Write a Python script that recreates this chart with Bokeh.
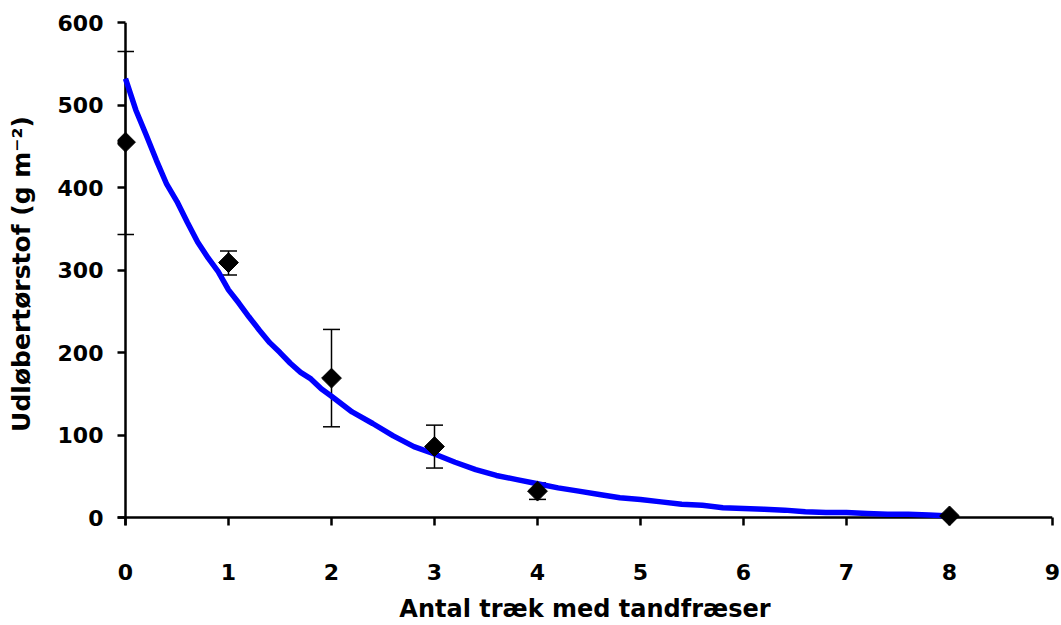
import numpy as np
from bokeh.plotting import figure
from bokeh.models import ColumnDataSource, Whisker, TeeHead, FixedTicker, Range1d, Span
from bokeh.embed import file_html
from bokeh.resources import INLINE

# Observed means and standard-error ranges
obs_x = [0, 1, 2, 3, 4, 8]
obs_y = [455, 309, 169, 86, 32, 2]
err_lo = [343, 294, 110, 60, 22, 2]
err_hi = [565, 323, 228, 112, 42, 2]

# Fitted curve
fit_x = [0, 0.1, 0.2, 0.3, 0.4, 0.5, 0.6, 0.7, 0.8, 0.9, 1.0, 1.1, 1.2, 1.3, 1.4,
         1.5, 1.6, 1.7, 1.8, 1.9, 2.0, 2.2, 2.4, 2.6, 2.8, 3.0, 3.2, 3.4, 3.6, 3.8,
         4.0, 4.2, 4.4, 4.6, 4.8, 5.0, 5.2, 5.4, 5.6, 5.8, 6.0, 6.2, 6.4, 6.6, 6.8,
         7.0, 7.2, 7.4, 7.6, 7.8, 8.0]
fit_y = [532, 494, 464, 433, 404, 383, 358, 334, 315, 298, 276, 260, 243, 227, 212,
         200, 187, 176, 168, 156, 147, 128, 114, 99, 86, 77, 67, 58, 51, 46,
         41, 36, 32, 28, 24, 22, 19, 16, 15, 12, 11, 10, 9, 7, 6,
         6, 5, 4, 4, 3, 2]

x_ticks = [0, 1, 2, 3, 4, 5, 6, 7, 8, 9]
y_ticks = [0, 100, 200, 300, 400, 500, 600]
x_title = "Antal træk med tandfræser"
y_title = "Udløbertørstof (g m⁻²)"

FONT = "DejaVu Sans"
TICK = 8  # px between frame edge and the zero lines

p = figure(width=1061, height=625, output_backend="svg", toolbar_location=None,
           x_range=Range1d(-TICK / 103.0, 9.0), y_range=Range1d(-TICK / 0.8308, 600),
           min_border_left=117, min_border_right=9, min_border_top=22,
           min_border_bottom=97)
p.outline_line_color = None
p.xgrid.visible = False
p.ygrid.visible = False
p.background_fill_color = "white"
p.border_fill_color = "white"

for ax in (p.xaxis[0], p.yaxis[0]):
    ax.axis_line_color = None
    ax.major_tick_line_width = 2.5
    ax.major_tick_line_color = "black"
    ax.major_tick_in = TICK
    ax.major_tick_out = 0
    ax.minor_tick_line_color = None
    ax.major_label_text_font = FONT
    ax.major_label_text_font_style = "bold"
    ax.major_label_text_font_size = "22px"
    ax.major_label_text_color = "black"
    ax.axis_label_text_font = FONT
    ax.axis_label_text_font_style = "bold"
    ax.axis_label_text_color = "black"

p.xaxis.ticker = FixedTicker(ticks=x_ticks)
p.yaxis.ticker = FixedTicker(ticks=y_ticks)
p.xaxis.major_label_standoff = 38
p.yaxis.major_label_standoff = 14
p.xaxis.axis_label = x_title
p.xaxis.axis_label_text_font_size = "24px"
p.xaxis.axis_label_standoff = 12
p.yaxis.axis_label = y_title
p.yaxis.axis_label_text_font_size = "25px"
p.yaxis.axis_label_standoff = 19

# zero lines acting as the axis lines
p.add_layout(Span(location=0, dimension="height", line_color="black",
                  line_width=2.5, level="underlay"))
p.add_layout(Span(location=0, dimension="width", line_color="black",
                  line_width=2.5, level="underlay"))

src = ColumnDataSource(dict(x=obs_x, y=obs_y))
has_err = [i for i in range(len(obs_x)) if err_hi[i] > err_lo[i]]
err_src = ColumnDataSource(dict(x=[obs_x[i] for i in has_err],
                                lo=[err_lo[i] for i in has_err],
                                hi=[err_hi[i] for i in has_err]))

w = Whisker(base="x", upper="hi", lower="lo", source=err_src,
            line_color="black", line_width=1.5,
            upper_head=TeeHead(size=17, line_color="black", line_width=1.5),
            lower_head=TeeHead(size=17, line_color="black", line_width=1.5))
p.add_layout(w)

p.line(fit_x, fit_y, line_color="#0000FF", line_width=5.5)

p.scatter("x", "y", source=src, marker="square", size=14, angle=np.pi / 4,
          fill_color="black", line_color="black")

open("out.html", "w").write(file_html(p, INLINE))
